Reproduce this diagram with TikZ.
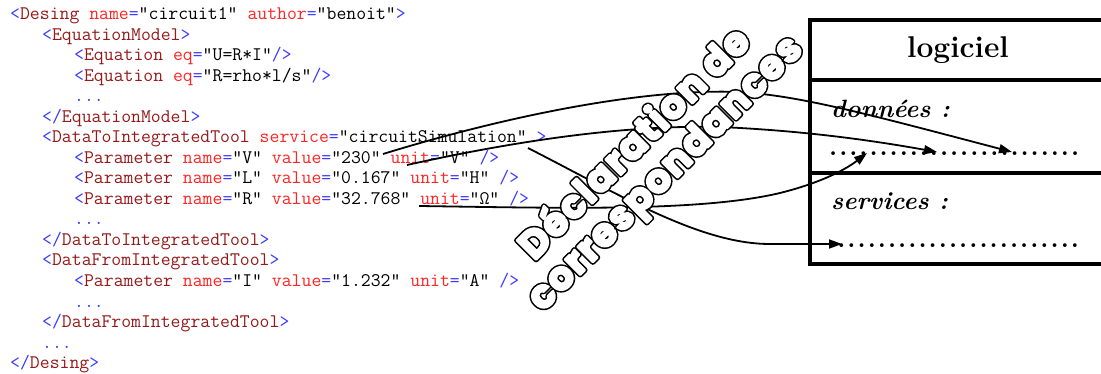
\documentclass[tikz,border=0pt]{standalone}
\usepackage{fontspec}
\setmonofont{Latin Modern Mono}
% heavy rounded caption letters: a wide black stroke under a narrower white one
\newfontfamily\bubblerim{Poppins}[UprightFont=* Bold, FakeBold=13.5, LetterSpace=3]
\newfontfamily\bubblebody{Poppins}[UprightFont=* Bold, FakeBold=5.5, LetterSpace=3]
\usetikzlibrary{arrows.meta}

\definecolor{xmlblue}{RGB}{60,60,255}
\definecolor{xmltag}{RGB}{150,25,25}
\definecolor{xmlattr}{RGB}{255,35,35}

% XML syntax colouring
\newcommand\Bl[1]{\textcolor{xmlblue}{#1}}
\newcommand\Tg[1]{\textcolor{xmltag}{#1}}
\newcommand\At[1]{\textcolor{xmlattr}{#1}}

% inflated white letters with a thin black rim
\newcommand\puffy[1]{%
  \rlap{\bubblerim\textcolor{black}{#1}}%
  {\bubblebody\textcolor{white}{#1}}}

\begin{document}
\begin{tikzpicture}[x=1pt,y=-1pt,
  xml/.style={anchor=base west, inner sep=0pt,
    font=\ttfamily\fontsize{19.2}{20}\selectfont},
  frame/.style={line width=4pt},
  boxlabel/.style={anchor=base west, inner sep=0pt,
    font=\bfseries\itshape\fontsize{25}{28}\selectfont},
  dotrow/.style={anchor=base west, inner sep=0pt,
    font=\bfseries\fontsize{26}{26}\selectfont},
  conn/.style={line width=1.8pt, -{Triangle[length=13pt,width=9pt]}},
  bubble/.style={rotate=45, inner sep=0pt, line join=round,
    font=\fontsize{39}{42}\selectfont}]

\useasboundingbox[fill=white] (0,0) rectangle (1101,374);

% ---------- XML listing ----------
\node[xml] (l0)  at (10,20)    {\Bl{<}\Tg{Desing} \At{name}\Bl{=}"circuit1" \At{author}\Bl{=}"benoit"\Bl{>}};
\node[xml] (l1)  at (42,40.5)  {\Bl{<}\Tg{EquationModel}\Bl{>}};
\node[xml] (l2)  at (74,61)    {\Bl{<}\Tg{Equation} \At{eq}\Bl{=}"U=R*I"\Bl{/>}};
\node[xml] (l3)  at (74,81.5)  {\Bl{<}\Tg{Equation} \At{eq}\Bl{=}"R=rho*l/s"\Bl{/>}};
\node[xml] (l4)  at (74,102)   {\Bl{...}};
\node[xml] (l5)  at (42,122.5) {\Bl{</}\Tg{EquationModel}\Bl{>}};
\node[xml] (l6)  at (42,143)   {\Bl{<}\Tg{DataToIntegratedTool} \At{service}\Bl{=}"circuitSimulation" \Bl{>}};
\node[xml] (l7)  at (74,163.5) {\Bl{<}\Tg{Parameter} \At{name}\Bl{=}"V" \At{value}\Bl{=}"230" \At{unit}\Bl{=}"V" \Bl{/>}};
\node[xml] (l8)  at (74,184)   {\Bl{<}\Tg{Parameter} \At{name}\Bl{=}"L" \At{value}\Bl{=}"0.167" \At{unit}\Bl{=}"H" \Bl{/>}};
\node[xml] (l9)  at (74,204.5) {\Bl{<}\Tg{Parameter} \At{name}\Bl{=}"R" \At{value}\Bl{=}"32.768" \At{unit}\Bl{=}"Ω" \Bl{/>}};
\node[xml] (l10) at (74,225)   {\Bl{...}};
\node[xml] (l11) at (42,245.5) {\Bl{</}\Tg{DataToIntegratedTool}\Bl{>}};
\node[xml] (l12) at (42,266)   {\Bl{<}\Tg{DataFromIntegratedTool}\Bl{>}};
\node[xml] (l13) at (74,286.5) {\Bl{<}\Tg{Parameter} \At{name}\Bl{=}"I" \At{value}\Bl{=}"1.232" \At{unit}\Bl{=}"A" \Bl{/>}};
\node[xml] (l14) at (74,307)   {\Bl{...}};
\node[xml] (l15) at (42,327.5) {\Bl{</}\Tg{DataFromIntegratedTool}\Bl{>}};
\node[xml] (l16) at (42,348)   {\Bl{...}};
\node[xml] (l17) at (10,368.5) {\Bl{</}\Tg{Desing}\Bl{>}};

% ---------- software box ----------
\draw[frame] (1115,20) -- (810,20) -- (810,264) -- (1115,264);
\draw[frame] (810,80) -- (1115,80);
\draw[frame] (810,173) -- (1115,173);

\node[font=\bfseries\fontsize{30}{32}\selectfont] (title) at (958,50) {logiciel};
\node[boxlabel] (donnees)  at (831,118) {données :};
\node[boxlabel] (services) at (831,210) {services :};
\node[dotrow] (ddots) at (828,156)
  {\hbox to 252pt{\xleaders\hbox to 10pt{\hss.\hss}\hfil}};
\node[dotrow] (sdots) at (836,248)
  {\hbox to 244pt{\xleaders\hbox to 10pt{\hss.\hss}\hfil}};

% ---------- correspondences ----------
\coordinate (sV)   at (383,154);
\coordinate (sU)   at (407,165);
\coordinate (sR)   at (419,206);
\coordinate (sSrv) at (528,148);
\coordinate (tA) at (1012,152);
\coordinate (tB) at (937,152);
\coordinate (tC) at (867,153);
\coordinate (tD) at (842,244);

\draw[conn] (sV) .. controls (500,118) and (640,88) .. (740,92)
                 .. controls (800,96) and (860,112) .. (tA);
\draw[conn] (sU) .. controls (520,140) and (640,122) .. (740,128)
                 .. controls (810,132) and (870,140) .. (tB);
\draw[conn] (sR) .. controls (560,208) and (700,212) .. (780,193)
                 .. controls (820,183) and (845,170) .. (tC);
\draw[conn] (sSrv) .. controls (620,195) and (700,244) .. (770,244) -- (tD);

% ---------- outlined caption ----------
\node[bubble] (decl) at (632,141) {\puffy{Déclaration de}};
\node[bubble] (corr) at (667,175) {\puffy{correspondances}};

\end{tikzpicture}
\end{document}
